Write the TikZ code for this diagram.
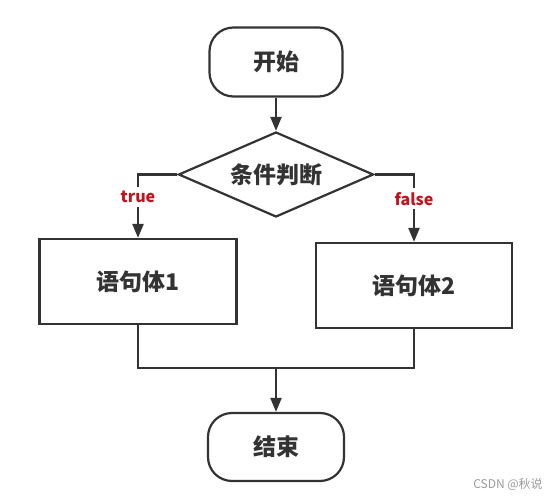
\documentclass[tikz,border=0pt]{standalone}
\usepackage{fontspec}
\newfontfamily\cjk{Noto Sans CJK SC}
\usetikzlibrary{shapes.geometric,arrows.meta}
\definecolor{linegray}{HTML}{333333}
\definecolor{labelred}{HTML}{C4121E}
\definecolor{markgray}{HTML}{9A9A9A}
\tikzset{
  terminal/.style={draw=linegray,line width=2.2pt,rounded corners=24pt,
    minimum width=133pt,minimum height=69pt,text=linegray,
    font=\cjk\bfseries\fontsize{23}{28}\selectfont},
  stmtbox/.style={draw=linegray,line width=2.2pt,minimum width=197pt,
    minimum height=85pt,text=linegray,
    font=\cjk\bfseries\fontsize{23}{28}\selectfont},
  judgebox/.style={diamond,draw=linegray,line width=2.2pt,aspect=2.3,
    inner sep=0pt,minimum width=195pt,minimum height=85pt,text=linegray,
    font=\cjk\bfseries\fontsize{23}{28}\selectfont},
  flow/.style={draw=linegray,line width=2.2pt},
  flowarrow/.style={flow,-{Triangle[length=14pt,width=11pt]}},
  tflabel/.style={fill=white,text=labelred,inner sep=4pt,
    font=\cjk\bfseries\fontsize{16}{18}\selectfont}
}
\begin{document}
\begin{tikzpicture}[x=1pt,y=-1pt]
\useasboundingbox (0,0) rectangle (557,500);

%nodes of the flow chart
  \node[terminal] (start) at (276,62) {开始};
  \node[judgebox] (judge) at (276,174.5) {条件判断};
  \node[stmtbox] (stmt1) at (138,281.5) {语句体1};
  \node[stmtbox,minimum width=196pt] (stmt2) at (414,285.5) {语句体2};
  \node[terminal,minimum width=136pt,minimum height=68pt] (stop) at (276,447) {结束};
  \coordinate (merge) at (276,368);

%connectors
  \draw[flowarrow] (start) -- (judge);
  \draw[flowarrow] (judge.west) -| (stmt1.north)
    node[tflabel,pos=0.68] {true};
  \draw[flowarrow] (judge.east) -| (stmt2.north)
    node[tflabel,pos=0.68] {false};
  \draw[flow] (stmt1.south) |- (merge) -| (stmt2.south);
  \draw[flowarrow] (merge) -- (stop);

%watermark
  \node[text=markgray,font=\cjk\fontsize{12}{14}\selectfont] (mark) at (508,485) {CSDN @秋说};
\end{tikzpicture}
\end{document}
